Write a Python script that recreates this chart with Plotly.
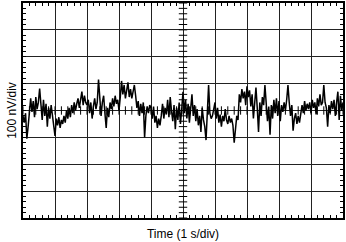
import numpy as np
import plotly.graph_objects as go

# Noise trace, values in divisions (100 nV/div), 25 samples per 1 s division
div0 = [-0.2, -0.45, -0.1, -1.05, -0.6, 0.1, 0.45, -0.05, 0.35, -0.25, 0.5, 0.05, 0.3, 0.82, 0.2, -0.35, 0.4, -0.2, 0.25, -0.6, 0.1, -0.3, 0.2, -0.15, -0.5]
div1 = [-0.95, -0.3, -0.55, -0.25, -0.65, -0.35, -0.5, -0.2, -0.45, 0.0, -0.3, 0.1, -0.25, 0.2, -0.1, 0.3, 0.0, 0.25, 0.45, 0.1, 0.35, 0.7, 0.2, 0.55, 0.3]
div2 = [0.2, 0.4, -0.1, 0.3, -0.3, 0.15, 0.45, 0.05, 0.3, 1.15, 0.4, -0.2, 0.3, 0.55, -0.1, -0.65, 0.1, -0.25, 0.3, 0.05, 0.45, 0.15, 0.55, 0.25, 0.4]
div3 = [0.0, 0.5, 1.1, 0.6, 0.95, 0.45, 0.75, 1.05, 0.5, 0.8, 0.45, 0.65, 0.95, 0.55, 0.1, 0.35, -0.2, 0.25, -0.1, 0.3, -1.0, -0.2, 0.15, -0.1, 0.2]
div4 = [0.1, -0.3, 0.15, -0.45, -0.2, -0.65, -0.3, -0.55, -0.2, 0.25, -0.3, 0.1, -0.15, 0.4, -0.25, 0.5, 0.0, -0.4, 0.2, -0.7, 0.1, -0.35, 0.3, -0.5, 0.05]
div5 = [0.7, -0.1, 0.4, -0.3, 0.25, -0.45, 0.15, 0.6, -0.2, 0.2, -0.4, 0.05, -0.55, -0.2, -0.8, 0.1, -0.35, -0.6, -1.1, 0.2, 0.95, -0.1, -0.3, -0.2, 0.15]
div6 = [0.3, -0.3, 0.1, -0.45, -0.15, -0.6, -0.2, -0.4, 0.05, -0.35, -0.5, -0.2, -0.45, -0.3, -0.55, -1.2, -0.5, -0.2, -0.35, 0.6, 0.3, 0.8, 0.45, 0.7, 0.2]
div7 = [0.9, 0.5, 0.75, 0.15, 0.6, -0.3, 0.4, 0.85, 0.1, -0.8, 0.3, -0.2, 0.5, 0.2, 0.95, 0.3, -0.4, 0.15, -0.9, 0.2, -0.3, 0.4, -0.1, 0.45, -0.2]
div8 = [0.35, -0.4, 0.2, -0.05, 0.3, 0.0, 0.4, 0.95, 0.3, -0.2, 0.2, -0.75, -0.3, -0.1, -0.5, -0.2, -0.45, -0.15, 0.2, -0.1, 0.35, 0.0, 0.25, 0.05, 0.3]
div9 = [-0.1, 0.4, 0.1, 0.3, -0.15, 0.45, 0.15, 0.6, 0.2, 0.3, 0.95, 0.3, 0.1, -0.6, 0.2, -0.1, 0.35, 0.05, 0.4, -0.2, 0.3, 0.7, -0.35, 0.55, 0.0]
last = [0.3]

signal = div0 + div1 + div2 + div3 + div4 + div5 + div6 + div7 + div8 + div9 + last
time_div = np.linspace(0, 10, len(signal))

x_title = "Time (1 s/div)"
y_title = "100 nV/div"

FONT = "Liberation Sans, Arial, sans-serif"

fig = go.Figure()

# center graticule minor ticks
cx = np.arange(0, 10.0001, 0.2)
cy = np.arange(-4, 4.0001, 0.2)
fig.add_trace(go.Scatter(x=cx, y=np.zeros_like(cx), mode="markers",
                         marker=dict(symbol="line-ns", size=6, line=dict(color="black", width=1)),
                         hoverinfo="skip", showlegend=False))
fig.add_trace(go.Scatter(x=np.full_like(cy, 5.0), y=cy, mode="markers",
                         marker=dict(symbol="line-ew", size=6, line=dict(color="black", width=1)),
                         hoverinfo="skip", showlegend=False))

fig.add_trace(go.Scatter(x=time_div, y=signal, mode="lines",
                         line=dict(color="black", width=1.5), showlegend=False))

axis_common = dict(showgrid=True, gridcolor="#222222", gridwidth=1, zeroline=False,
                   showline=True, linecolor="black", linewidth=2, mirror="allticks",
                   ticks="inside", ticklen=3, tickcolor="black", showticklabels=False,
                   dtick=1,
                   minor=dict(ticks="inside", ticklen=3, dtick=0.2, tickcolor="black", showgrid=False))

fig.update_xaxes(range=[0, 10], tick0=0,
                 title=dict(text=x_title, font=dict(family=FONT, size=12, color="black"), standoff=11),
                 **axis_common)
fig.update_yaxes(range=[-4, 4], tick0=-4,
                 title=dict(text=y_title, font=dict(family=FONT, size=12, color="black"), standoff=2),
                 **axis_common)

fig.update_layout(width=346, height=242, margin=dict(l=23, r=2, t=1, b=24),
                  paper_bgcolor="white", plot_bgcolor="white",
                  font=dict(family=FONT, size=12, color="black"))

fig.write_html("out.html")
